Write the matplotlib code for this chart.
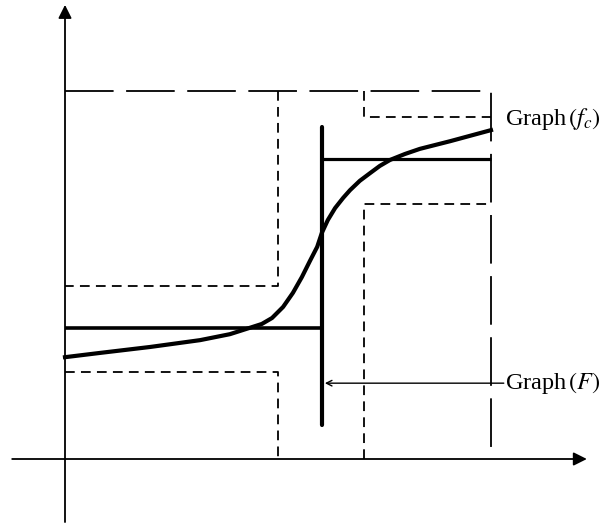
import matplotlib
import numpy as np
import matplotlib.pyplot as plt

matplotlib.rcParams['lines.scale_dashes'] = False
matplotlib.rcParams['mathtext.fontset'] = 'stix'

# switching points on the x axis
x_a, x_c, x_b, x_r = 5.0, 6.03, 7.02, 10.0

# levels of the dashed bands and of F
y_top, y_step = 8.64, 8.03
y_band_hi, y_band_lo = 5.99, 4.06
y_low = 2.04
F_lo, F_hi = 3.08, 7.04
F_vert = [0.8, 7.8]

# smooth approximation f_c
curve_x = [0, 0.82, 2.00, 3.17, 3.87, 4.34, 4.62, 4.86, 5.12, 5.35, 5.56,
           5.75, 5.92, 6.03, 6.17, 6.34, 6.53, 6.69, 6.92, 7.16, 7.39, 7.63,
           7.98, 8.33, 9.04, 10.0]
curve_y = [2.39, 2.49, 2.63, 2.79, 2.93, 3.08, 3.17, 3.31, 3.57, 3.90, 4.27,
           4.65, 4.98, 5.31, 5.61, 5.89, 6.13, 6.31, 6.53, 6.71, 6.88, 7.02,
           7.16, 7.28, 7.46, 7.72]

px = 42.6  # pixels per unit
fig = plt.figure(figsize=(6.11, 5.27), dpi=100)
ax = fig.add_axes([0, 0, 1, 1])
ax.set_xlim(-65 / px, (611 - 65) / px)
ax.set_ylim((459 - 527) / px, 459 / px)
ax.axis('off')

long_d = (0, (35, 9))
short_d = (0, (7, 4.5))
thin = 1.3

# axes with arrows
ax.annotate('', xy=(12.25, 0), xytext=(-1.24, 0),
            arrowprops=dict(arrowstyle='-|>', lw=thin, color='k',
                            mutation_scale=20, shrinkA=0, shrinkB=0))
ax.annotate('', xy=(0, 10.66), xytext=(0, -1.48),
            arrowprops=dict(arrowstyle='-|>', lw=thin, color='k',
                            mutation_scale=20, shrinkA=0, shrinkB=0))

# outer band (long dashes)
ax.plot([0, x_r, x_r], [y_top, y_top, 0], color='k', lw=thin, linestyle=long_d)

# short-dashed bands
ax.plot([x_b, x_b, x_r], [y_top, y_step, y_step], color='k', lw=thin, linestyle=short_d)
ax.plot([x_a, x_a, 0], [y_top, y_band_lo, y_band_lo], color='k', lw=thin, linestyle=short_d)
ax.plot([0, x_a, x_a], [y_low, y_low, 0], color='k', lw=thin, linestyle=short_d)
ax.plot([x_b, x_b, x_r], [0, y_band_hi, y_band_hi], color='k', lw=thin, linestyle=short_d)

# graph of F
ax.plot([0, x_c], [F_lo, F_lo], color='k', lw=2.6, solid_capstyle='butt')
ax.plot([x_c, x_c], F_vert, color='k', lw=3.0, solid_capstyle='round')
ax.plot([x_c, x_r], [F_hi, F_hi], color='k', lw=2.3, solid_capstyle='butt')

# f_c
ax.plot(curve_x, curve_y, color='k', lw=3.0, solid_joinstyle='round')

# labels
serif = ['Liberation Serif', 'DejaVu Serif']
ax.text(10.33, 7.97, 'Graph$\\,(f_c)$', family=serif, fontsize=17.5, va='center', ha='left')
ax.text(10.33, 1.78, 'Graph$\\,(F)$', family=serif, fontsize=17.5, va='center', ha='left')
ax.annotate('', xy=(x_c + 0.07, 1.78), xytext=(10.3, 1.78),
            arrowprops=dict(arrowstyle='->', lw=1.0, color='k',
                            mutation_scale=10, shrinkA=0, shrinkB=0))

fig.savefig('out.png', dpi=100)
